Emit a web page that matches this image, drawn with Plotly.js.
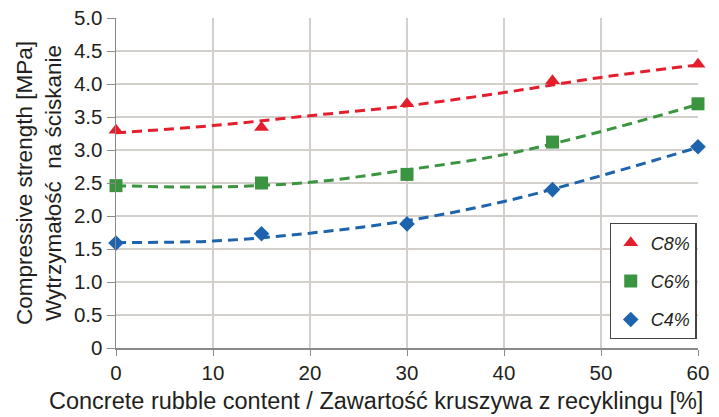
<!DOCTYPE html>
<html><head><meta charset="utf-8">
<script src="https://cdn.plot.ly/plotly-3.0.1.min.js"></script>
<style>html,body{margin:0;padding:0;background:#fff;}</style>
</head><body>
<div id="chart" style="width:719px;height:417px;"></div>
<script>
// Measured data points
const xPoints = [0, 15, 30, 45, 60];
const c8 = [3.30, 3.34, 3.70, 4.05, 4.30];
const c6 = [2.46, 2.50, 2.63, 3.12, 3.70];
const c4 = [1.59, 1.73, 1.88, 2.40, 3.05];
// Trend lines
const xTrend = [0, 10, 20, 30, 40, 50, 60];
const c8Trend = [3.26, 3.37, 3.52, 3.67, 3.87, 4.10, 4.29];
const c6Trend = [2.46, 2.44, 2.51, 2.70, 2.93, 3.28, 3.69];
const c4Trend = [1.60, 1.62, 1.74, 1.93, 2.22, 2.61, 3.04];
const seriesNames = ['C8%', 'C6%', 'C4%'];
const yTickVals = [0, 0.5, 1, 1.5, 2, 2.5, 3, 3.5, 4, 4.5, 5];
const yTickText = ['0', '0.5', '1.0', '1.5', '2.0', '2.5', '3.0', '3.5', '4.0', '4.5', '5.0'];
const xTickVals = [0, 10, 20, 30, 40, 50, 60];
const xTitle = 'Concrete rubble content / Zawartość kruszywa z recyklingu [%]';
const yTitle = 'Compressive strength [MPa]<br>Wytrzymałość  na ściskanie';

const colors = ['#e41f2d', '#3a9440', '#1e63ae'];
const symbols = ['triangle-up', 'square', 'diamond'];
const sizes = [13, 13, 12];
const pts = [c8, c6, c4];
const trends = [c8Trend, c6Trend, c4Trend];

const traces = [];
for (let i = 0; i < 3; i++) {
  traces.push({
    x: xTrend, y: trends[i], mode: 'lines', type: 'scatter',
    line: {color: colors[i], width: 3, dash: '10px,6px', shape: 'spline'},
    showlegend: false, hoverinfo: 'skip', legendgroup: 'g' + i
  });
}
for (let i = 0; i < 3; i++) {
  traces.push({
    x: xPoints, y: pts[i], mode: 'markers', type: 'scatter', name: seriesNames[i],
    marker: {color: colors[i], symbol: symbols[i], size: sizes[i]},
    legendgroup: 'g' + i, cliponaxis: false
  });
}

const layout = {
  width: 719, height: 417,
  margin: {l: 116, r: 21, t: 18, b: 69},
  paper_bgcolor: '#fff', plot_bgcolor: '#fff',
  font: {family: 'Liberation Sans, Arial, sans-serif', color: '#231f20', size: 20},
  showlegend: true,
  legend: {
    x: 0.848, y: 0.378, xanchor: 'left', yanchor: 'top',
    bgcolor: '#fff', bordercolor: '#444', borderwidth: 1.2,
    font: {size: 18, style: 'italic'},
    traceorder: 'grouped', tracegroupgap: 12,
    itemwidth: 30
  },
  xaxis: {
    range: [0, 60], tickvals: xTickVals, ticktext: xTickVals.map(String),
    showgrid: true, gridcolor: '#d3cfcb', gridwidth: 1.5,
    showline: true, linecolor: '#8a8a8a', linewidth: 1.5,
    ticks: 'outside', ticklen: 6, tickcolor: '#8a8a8a',
    zeroline: false,
    tickfont: {size: 20.5}
  },
  yaxis: {
    range: [0, 5], tickvals: yTickVals, ticktext: yTickText,
    showgrid: true, gridcolor: '#d3cfcb', gridwidth: 1.5,
    showline: true, linecolor: '#8a8a8a', linewidth: 1.5,
    ticks: 'outside', ticklen: 8, tickcolor: '#8a8a8a',
    zeroline: false,
    tickfont: {size: 20.5},
    title: {text: yTitle, font: {size: 22.5}, standoff: 6}
  },
  annotations: [{
    text: xTitle, xref: 'paper', yref: 'paper', x: 0.447, y: -0.161,
    xanchor: 'center', yanchor: 'middle', showarrow: false,
    font: {size: 23.5}
  }]
};
Plotly.newPlot('chart', traces, layout, {staticPlot: true, displayModeBar: false});
</script>
</body></html>
